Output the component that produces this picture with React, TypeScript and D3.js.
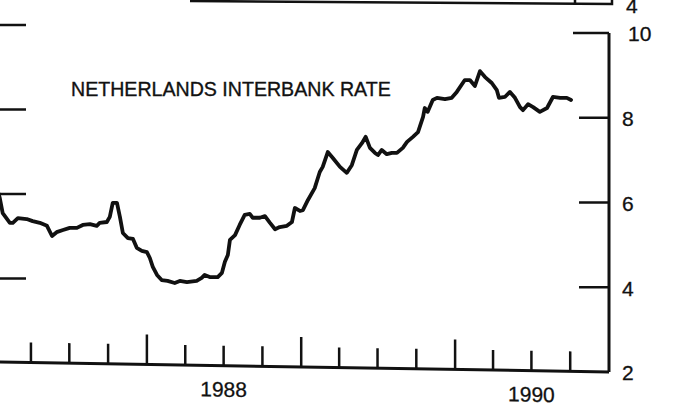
import React, { useEffect } from "react";
import * as d3 from "d3";

// Netherlands interbank rate (percent)
const dates = [
  "1987-01-10", "1987-01-17", "1987-01-24", "1987-02-10", "1987-02-17", "1987-03-01", "1987-03-22",
  "1987-04-05", "1987-04-22", "1987-05-09", "1987-05-21", "1987-06-01", "1987-06-16", "1987-07-02",
  "1987-07-19", "1987-08-02", "1987-08-19", "1987-09-04", "1987-09-11", "1987-09-28", "1987-10-05",
  "1987-10-12", "1987-10-22", "1987-10-29", "1987-11-05", "1987-11-17", "1987-11-29", "1987-12-08",
  "1987-12-20", "1988-01-01", "1988-01-08", "1988-01-15", "1988-01-25", "1988-02-05", "1988-02-19",
  "1988-03-07", "1988-03-19", "1988-04-05", "1988-04-28", "1988-05-10", "1988-05-17", "1988-05-29",
  "1988-06-17", "1988-06-27", "1988-07-04", "1988-07-11", "1988-07-16", "1988-07-28", "1988-08-08",
  "1988-08-20", "1988-09-01", "1988-09-08", "1988-09-25", "1988-10-07", "1988-10-19", "1988-10-31",
  "1988-11-11", "1988-11-28", "1988-12-10", "1988-12-17", "1988-12-29", "1989-01-05", "1989-01-17",
  "1989-02-02", "1989-02-14", "1989-02-21", "1989-03-05", "1989-03-17", "1989-04-03", "1989-04-19",
  "1989-05-01", "1989-05-13", "1989-05-25", "1989-06-03", "1989-06-13", "1989-06-25", "1989-07-02",
  "1989-07-11", "1989-07-23", "1989-08-04", "1989-08-16", "1989-08-30", "1989-09-09", "1989-09-23",
  "1989-10-05", "1989-10-17", "1989-10-21", "1989-10-28", "1989-11-09", "1989-11-19", "1989-12-08",
  "1989-12-24", "1990-01-05", "1990-01-24", "1990-02-05", "1990-02-17", "1990-03-01", "1990-03-13",
  "1990-03-29", "1990-04-10", "1990-04-15", "1990-04-29", "1990-05-11", "1990-05-23", "1990-06-04",
  "1990-06-11", "1990-06-23", "1990-07-05", "1990-07-21", "1990-08-07", "1990-08-21", "1990-09-07",
  "1990-09-23", "1990-10-03",
];

const rates = [
  6.35, 6.11, 5.75, 5.52, 5.52, 5.63, 5.61,
  5.56, 5.52, 5.45, 5.21, 5.30, 5.35, 5.40,
  5.40, 5.47, 5.49, 5.45, 5.52, 5.54, 5.66,
  5.99, 5.99, 5.66, 5.28, 5.16, 5.14, 4.93,
  4.86, 4.83, 4.69, 4.48, 4.29, 4.17, 4.15,
  4.10, 4.15, 4.12, 4.15, 4.22, 4.29, 4.24,
  4.24, 4.34, 4.60, 4.76, 5.12, 5.23, 5.47,
  5.71, 5.73, 5.64, 5.64, 5.68, 5.52, 5.37,
  5.42, 5.45, 5.54, 5.87, 5.80, 5.82, 6.06,
  6.34, 6.72, 6.84, 7.19, 7.05, 6.84, 6.70,
  6.88, 7.24, 7.40, 7.55, 7.29, 7.17, 7.12,
  7.24, 7.14, 7.17, 7.17, 7.29, 7.43, 7.55,
  7.66, 8.02, 8.23, 8.14, 8.42, 8.47, 8.44,
  8.47, 8.61, 8.89, 8.89, 8.75, 9.10, 8.96,
  8.82, 8.65, 8.47, 8.49, 8.61, 8.47, 8.25,
  8.18, 8.32, 8.25, 8.14, 8.23, 8.49, 8.47,
  8.47, 8.42,
];

const rateTicks = [2, 4, 6, 8, 10];
const neighbourTicks = [4, 6, 8, 10];
const yearLabels = ["1988", "1990"];
const title = "NETHERLANDS INTERBANK RATE";

const INK = "#111";
const FONT = "'Liberation Sans', Arial, Helvetica, sans-serif";

const parse = d3.utcParse("%Y-%m-%d");

export default function App() {
  useEffect(() => {
    document.body.style.margin = "0";
  }, []);

  const x = d3.scaleUtc()
    .domain([parse("1987-01-01")!, parse("1991-01-01")!])
    .range([-7, 609]);

  const y = d3.scaleLinear().domain([2, 10]).range([372, 33]);

  // bottom axis of the scan slopes down to the right
  const baseY = 362;
  const skew = (Math.atan((y(2) - baseY) / x.range()[1]) * 180) / Math.PI;

  // neighbouring panel on the left, only its right-hand ticks show
  const yLeft = d3.scaleLinear().domain([2, 10]).range([363, 25]);

  const points = dates.map((d, i) => [x(parse(d)!), y(rates[i])] as [number, number]);
  const line = d3.line().curve(d3.curveLinear);

  const quarters = d3.utcMonth.every(3)!.range(parse("1987-01-01")!, parse("1991-01-01")!);

  return (
    <svg width={684} height={406} style={{ position: "absolute", left: 0, top: 0, background: "#fff" }}>
      {/* cropped panel above: bottom axis and its last label */}
      <path d="M190,1 L612,4 L612,-4" fill="none" stroke={INK} strokeWidth={2.5} />
      <line x1={575} x2={575} y1={4} y2={-4} stroke={INK} strokeWidth={2.5} />
      <text x={626} y={13} fontFamily={FONT} fontSize={21} fill={INK} stroke={INK} strokeWidth={0.3}>4</text>

      {/* cropped panel on the left */}
      {neighbourTicks.map(t => (
        <line key={"n" + t} x1={0} x2={26} y1={yLeft(t)} y2={yLeft(t)} stroke={INK} strokeWidth={2.5} />
      ))}

      {/* right value axis */}
      <line x1={609} x2={609} y1={y(10)} y2={y(2)} stroke={INK} strokeWidth={3} />
      {rateTicks.filter(t => t > 2).map(t => (
        <line key={"t" + t} x1={t === 10 ? 573 : 579} x2={609} y1={y(t)} y2={y(t)} stroke={INK} strokeWidth={2.5} />
      ))}
      {rateTicks.map(t => (
        <text key={"l" + t} x={t === 10 ? 628 : 622} y={y(t) + 1} dy="0.35em" fontFamily={FONT} fontSize={21}
          fill={INK} stroke={INK} strokeWidth={0.3}>{t}</text>
      ))}

      {/* bottom time axis */}
      <g transform={`skewY(${skew})`}>
        <line x1={0} x2={609} y1={baseY} y2={baseY} stroke={INK} strokeWidth={3} />
        {quarters.filter(q => x(q) > 0).map(q => {
          const tall = q.getUTCMonth() === 0;
          return (
            <line key={q.toISOString()} x1={x(q)} x2={x(q)} y1={baseY} y2={baseY - (tall ? 30 : 20)}
              stroke={INK} strokeWidth={2.5} />
          );
        })}
        {yearLabels.map(yr => (
          <text key={yr} x={x(parse(yr + "-07-01")!)} y={baseY + 31} textAnchor="middle" fontFamily={FONT}
            fontSize={21} fill={INK} stroke={INK} strokeWidth={0.3}>{yr}</text>
        ))}
      </g>

      <text x={71} y={96} fontFamily={FONT} fontSize={19.6} fill={INK} stroke={INK} strokeWidth={0.35}>{title}</text>

      <path d={line(points) ?? ""} fill="none" stroke={INK} strokeWidth={3.8} strokeLinejoin="round" strokeLinecap="round" />
    </svg>
  );
}
